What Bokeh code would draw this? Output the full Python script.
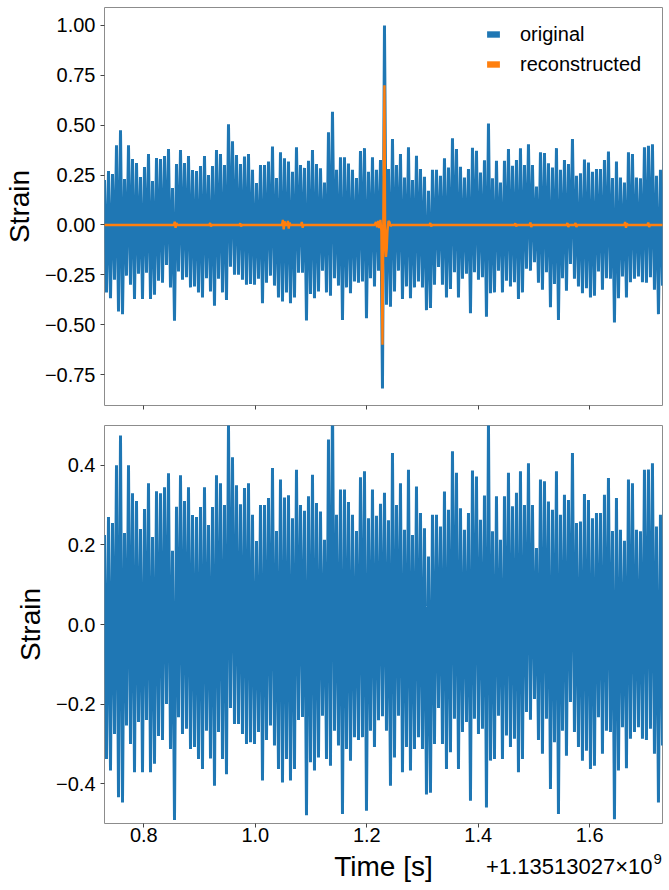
import numpy as np
from bokeh.plotting import figure
from bokeh.layouts import column
from bokeh.models import (Range1d, FixedTicker, CustomJSTickFormatter, Legend,
                          LegendItem, Label)
from bokeh.embed import file_html
from bokeh.resources import INLINE

# ---------------- data ----------------
GPS_OFFSET = "+1.13513027\u00d710"
GPS_EXP = "9"
T0 = 0.7295          # first sample time (s, relative to offset)
DT = 0.007175        # envelope sample spacing (s)

# upper (hi) and lower (lo) excursions of the original strain in each sample slot
orig_hi = [0.225, 0.27, 0.255, 0.40, 0.475, 0.23, 0.40, 0.33, 0.31, 0.24,
           0.29, 0.355, 0.22, 0.335, 0.33, 0.345, 0.38, 0.185, 0.305, 0.375,
           0.31, 0.345, 0.275, 0.27, 0.295, 0.345, 0.25, 0.295, 0.375, 0.355,
           0.30, 0.505, 0.42, 0.35, 0.305, 0.343, 0.355, 0.276, 0.21, 0.30,
           0.30, 0.318, 0.393, 0.235, 0.364, 0.334, 0.318, 0.267, 0.389, 0.30,
           0.286, 0.322, 0.376, 0.305, 0.284, 0.213, 0.465, 0.567, 0.276, 0.339,
           0.339, 0.308, 0.276, 0.235, 0.37, 0.385, 0.267, 0.339, 0.276, 0.326,
           1.00, 0.28, 0.431, 0.30, 0.355, 0.238, 0.389, 0.225, 0.347, 0.28,
           0.242, 0.171, 0.276, 0.276, 0.246, 0.334, 0.288, 0.435, 0.381, 0.292,
           0.238, 0.28, 0.387, 0.372, 0.263, 0.324, 0.508, 0.234, 0.322, 0.213,
           0.322, 0.381, 0.297, 0.326, 0.385, 0.30, 0.405, 0.30, 0.192, 0.364,
           0.36, 0.309, 0.288, 0.385, 0.276, 0.326, 0.305, 0.431, 0.246, 0.259,
           0.328, 0.313, 0.267, 0.28, 0.28, 0.326, 0.368, 0.235, 0.318, 0.238,
           0.213, 0.364, 0.355, 0.238, 0.234, 0.389, 0.397, 0.405, 0.246, 0.276,
           0.435]
orig_lo = [-0.338, -0.367, -0.275, -0.434, -0.447, -0.254, -0.30, -0.371, -0.245, -0.371,
           -0.24, -0.371, -0.35, -0.28, -0.29, -0.20, -0.313, -0.48, -0.233, -0.275,
           -0.262, -0.313, -0.308, -0.338, -0.363, -0.267, -0.334, -0.405, -0.27, -0.338,
           -0.376, -0.21, -0.25, -0.25, -0.275, -0.30, -0.296, -0.30, -0.27, -0.392,
           -0.29, -0.254, -0.304, -0.363, -0.384, -0.338, -0.392, -0.363, -0.24, -0.24,
           -0.479, -0.346, -0.367, -0.334, -0.229, -0.338, -0.355, -0.267, -0.304, -0.476,
           -0.313, -0.342, -0.283, -0.29, -0.283, -0.468, -0.267, -0.308, -0.229, -0.82,
           -0.40, -0.41, -0.334, -0.229, -0.371, -0.308, -0.367, -0.313, -0.283, -0.313,
           -0.427, -0.416, -0.30, -0.21, -0.30, -0.363, -0.321, -0.237, -0.363, -0.27,
           -0.245, -0.443, -0.237, -0.275, -0.262, -0.46, -0.342, -0.338, -0.229, -0.338,
           -0.279, -0.308, -0.287, -0.371, -0.338, -0.22, -0.229, -0.187, -0.29, -0.325,
           -0.237, -0.413, -0.296, -0.476, -0.267, -0.33, -0.195, -0.27, -0.308, -0.342,
           -0.317, -0.363, -0.355, -0.233, -0.325, -0.267, -0.27, -0.489, -0.367, -0.258,
           -0.363, -0.287, -0.27, -0.258, -0.287, -0.29, -0.262, -0.325, -0.447, -0.304,
           -0.229]

# reconstructed waveform
recon_t = [0.725,
           0.8540, 0.8555, 0.8570, 0.8585, 0.8600,
           0.9175, 0.9190, 0.9205, 0.9220,
           0.9715, 0.9730, 0.9745, 0.9760,
           1.0480, 1.0495, 1.0510, 1.0525, 1.0540, 1.0570, 1.0585, 1.0600, 1.0615, 1.0630,
           1.0820, 1.0835, 1.0850, 1.0865,
           1.2140, 1.2165, 1.2185, 1.2205, 1.2225, 1.2245, 1.2262, 1.2282, 1.2299,
           1.2317, 1.2330, 1.2344, 1.2358, 1.2371, 1.2390, 1.2407, 1.2425, 1.2450,
           1.3125, 1.3140, 1.3155, 1.3170,
           1.4650, 1.4665, 1.4680, 1.4695,
           1.4920, 1.4935, 1.4950, 1.4965,
           1.5585, 1.5600, 1.5615, 1.5630,
           1.5730, 1.5745, 1.5760, 1.5775,
           1.6620, 1.6635, 1.6650, 1.6665, 1.6680,
           1.7035, 1.7050, 1.7065, 1.7080,
           1.735]
recon_v = [0.0,
           0.0, 0.016, -0.014, 0.010, 0.0,
           0.0, 0.010, -0.008, 0.0,
           0.0, 0.008, -0.008, 0.0,
           0.0, 0.025, -0.022, 0.018, 0.0, 0.0, 0.020, -0.018, 0.012, 0.0,
           0.0, 0.015, -0.014, 0.0,
           0.0, 0.015, -0.012, 0.020, -0.015, 0.025, -0.030, -0.60, 0.10,
           0.70, -0.10, -0.16, -0.12, -0.03, 0.020, 0.015, -0.005, 0.0,
           0.0, 0.010, -0.008, 0.0,
           0.0, 0.008, -0.008, 0.0,
           0.0, 0.012, -0.010, 0.0,
           0.0, 0.010, -0.010, 0.0,
           0.0, 0.010, -0.010, 0.0,
           0.0, 0.015, -0.014, 0.008, 0.0,
           0.0, 0.012, -0.010, 0.0,
           0.0]

top_yticks = [-0.75, -0.5, -0.25, 0.0, 0.25, 0.5, 0.75, 1.0]
bot_yticks = [-0.4, -0.2, 0.0, 0.2, 0.4]
xticks = [0.8, 1.0, 1.2, 1.4, 1.6]

# ---------------- series assembly ----------------
n = len(orig_hi)
t_hi = T0 + DT * np.arange(n)
t_lo = t_hi + DT / 2
t = np.empty(2 * n)
t[0::2] = t_hi
t[1::2] = t_lo
orig = np.empty(2 * n)
orig[0::2] = orig_hi
orig[1::2] = orig_lo
residual = orig - np.interp(t, recon_t, recon_v)

BLUE = "#1f77b4"
ORANGE = "#ff7f0e"
FONT = "Liberation Sans"
SPINE = "#8c8c8c"
LW = 3.0
FW, FH = 558, 398

x_range = Range1d(0.7295, 1.7305)


def fmt(decimals):
    return CustomJSTickFormatter(code=f"""
        const s = Math.abs(tick).toFixed({decimals});
        return (tick < -1e-9 ? '\\u2212' : '') + s;
    """)


def style(p):
    p.outline_line_color = SPINE
    p.outline_line_width = 1
    p.xgrid.visible = False
    p.ygrid.visible = False
    for ax in (p.xaxis[0], p.yaxis[0]):
        ax.axis_line_color = None
        ax.major_tick_line_color = "#444444"
        ax.major_tick_in = 0
        ax.major_tick_out = 4
        ax.minor_tick_line_color = None
        ax.major_label_text_font = FONT
        ax.major_label_text_font_size = "20px"
        ax.major_label_text_color = "#000000"
        ax.axis_label_text_font = FONT
        ax.axis_label_text_font_style = "normal"
        ax.axis_label_text_font_size = "28px"
        ax.axis_label_text_color = "#000000"


# ---------------- top panel ----------------
p1 = figure(frame_width=FW, frame_height=FH, x_range=x_range,
            y_range=Range1d(-0.905, 1.09), output_backend="svg",
            toolbar_location=None, min_border_left=104, min_border_right=4,
            min_border_top=7, min_border_bottom=15)
style(p1)
p1.line(t, orig, line_color=BLUE, line_width=LW)
p1.line(recon_t, recon_v, line_color=ORANGE, line_width=2.4)
p1.yaxis.ticker = FixedTicker(ticks=top_yticks)
p1.yaxis.formatter = fmt(2)
p1.yaxis.axis_label = "Strain"
p1.yaxis.axis_label_standoff = 7
p1.yaxis.major_label_standoff = 5
p1.xaxis.ticker = FixedTicker(ticks=xticks)
p1.xaxis.formatter = CustomJSTickFormatter(code="return '';")
p1.xaxis.major_label_standoff = 0

NAN = [float("nan")]
q1 = p1.quad(left=NAN, right=NAN, top=NAN, bottom=NAN, fill_color=BLUE, line_color=None)
q2 = p1.quad(left=NAN, right=NAN, top=NAN, bottom=NAN, fill_color=ORANGE, line_color=None)
legend = Legend(items=[LegendItem(label="original", renderers=[q1]),
                       LegendItem(label="reconstructed", renderers=[q2])],
                location="top_right", border_line_color=None,
                background_fill_alpha=0, glyph_width=16, glyph_height=8,
                label_standoff=19, label_text_font=FONT,
                label_text_color="#000000", label_width=127,
                label_text_font_size="20px", label_height=24, spacing=6,
                padding=15, margin=15)
p1.add_layout(legend)

# ---------------- bottom panel ----------------
p2 = figure(frame_width=FW, frame_height=FH, x_range=x_range,
            y_range=Range1d(-0.5, 0.5), output_backend="svg",
            toolbar_location=None, min_border_left=104, min_border_right=4,
            min_border_top=5, min_border_bottom=66)
style(p2)
p2.line(t, residual, line_color=BLUE, line_width=LW)
p2.yaxis.ticker = FixedTicker(ticks=bot_yticks)
p2.yaxis.formatter = fmt(1)
p2.yaxis.axis_label = "Strain"
p2.yaxis.axis_label_standoff = 7
p2.yaxis.major_label_standoff = 5
p2.xaxis.ticker = FixedTicker(ticks=xticks)
p2.xaxis.formatter = fmt(1)
p2.xaxis.major_label_standoff = 0
p2.xaxis.axis_label = "Time [s]"
p2.xaxis.axis_label_standoff = 6

# ---------------- offset text strip, overlapping the bottom border ----------------
STRIP_H = 36
p3 = figure(frame_width=FW, frame_height=STRIP_H, x_range=x_range,
            y_range=Range1d(0, STRIP_H), output_backend="svg",
            toolbar_location=None, min_border_left=104, min_border_right=4,
            min_border_top=0, min_border_bottom=0, margin=(-40, 0, 0, 0))
p3.axis.visible = False
p3.grid.visible = False
p3.outline_line_color = None
p3.background_fill_color = None
p3.border_fill_color = None
p3.add_layout(Label(x=x_range.end, y=19, x_offset=-10, text=GPS_OFFSET,
                    text_align="right", text_baseline="alphabetic",
                    text_font=FONT, text_font_size="22px", text_color="#000000"))
p3.add_layout(Label(x=x_range.end, y=27, x_offset=-9, text=GPS_EXP,
                    text_align="left", text_baseline="alphabetic",
                    text_font=FONT, text_font_size="15px", text_color="#000000"))

layout = column(p1, p2, p3, spacing=0)
open("out.html", "w").write(file_html(layout, INLINE))
